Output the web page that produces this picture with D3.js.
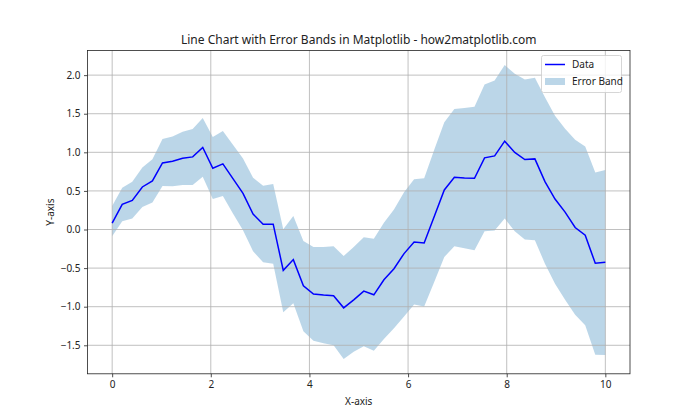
<!DOCTYPE html>
<html>
<head>
<meta charset="utf-8">
<script src="https://cdn.jsdelivr.net/npm/d3@7"></script>
<style>
  body { margin: 0; background: #fff; }
  svg text { font-family: "Noto Sans", "DejaVu Sans", sans-serif; fill: #222; }
</style>
</head>
<body>
<svg id="chart"></svg>
<script>
const xValues = d3.range(50).map(i => i * 10 / 49);

const yValues = [
  0.082, 0.325, 0.377, 0.551, 0.629, 0.863, 0.885, 0.924, 0.941, 1.063,
  0.794, 0.850, 0.659, 0.469, 0.200, 0.069, 0.069, -0.529, -0.390, -0.729,
  -0.837, -0.850, -0.859, -1.015, -0.911, -0.798, -0.846, -0.651, -0.508, -0.312,
  -0.161, -0.174, 0.169, 0.512, 0.677, 0.668, 0.664, 0.928, 0.954, 1.145,
  0.998, 0.907, 0.915, 0.620, 0.395, 0.226, 0.026, -0.074, -0.438, -0.425
];

const upperValues = [
  0.304, 0.542, 0.620, 0.803, 0.911, 1.171, 1.206, 1.267, 1.302, 1.445,
  1.197, 1.275, 1.098, 0.920, 0.672, 0.568, 0.590, 0.004, 0.174, -0.148,
  -0.226, -0.226, -0.217, -0.343, -0.226, -0.100, -0.121, 0.087, 0.260, 0.482,
  0.651, 0.664, 1.033, 1.388, 1.562, 1.575, 1.592, 1.879, 1.931, 2.130,
  2.017, 1.944, 1.965, 1.714, 1.475, 1.306, 1.163, 1.076, 0.738, 0.772
];

const lowerValues = [
  -0.087, 0.108, 0.143, 0.291, 0.351, 0.564, 0.560, 0.577, 0.577, 0.685,
  0.395, 0.434, 0.208, -0.009, -0.282, -0.425, -0.443, -1.072, -0.954, -1.319,
  -1.440, -1.475, -1.501, -1.679, -1.584, -1.514, -1.570, -1.419, -1.280, -1.128,
  -0.972, -0.998, -0.681, -0.356, -0.217, -0.243, -0.269, -0.022, -0.013, 0.143,
  -0.022, -0.130, -0.139, -0.443, -0.703, -0.911, -1.106, -1.241, -1.623, -1.627
];

const xTicks = [0, 2, 4, 6, 8, 10];
const yTicks = [-1.5, -1.0, -0.5, 0.0, 0.5, 1.0, 1.5, 2.0];

const width = 700;
const height = 420;
const margin = { left: 87.5, right: 70, top: 50.4, bottom: 46.2 };

const svg = d3.select("#chart")
    .attr("width", width)
    .attr("height", height);

const data = xValues.map((x, i) => ({ x: x, y: yValues[i], lo: lowerValues[i], hi: upperValues[i] }));

const yMin = d3.min(lowerValues), yMax = d3.max(upperValues);
const yPad = (yMax - yMin) * 0.05;

const xScale = d3.scaleLinear()
    .domain([-0.5, 10.5])
    .range([margin.left, width - margin.right]);

const yScale = d3.scaleLinear()
    .domain([yMin - yPad, yMax + yPad])
    .range([height - margin.bottom, margin.top]);

// error band
svg.append("path")
    .datum(data)
    .attr("d", d3.area().x(d => xScale(d.x)).y0(d => yScale(d.lo)).y1(d => yScale(d.hi)))
    .attr("fill", "#1f77b4")
    .attr("fill-opacity", 0.3);

// grid
svg.append("g")
    .selectAll("line.gx")
    .data(xTicks)
    .join("line")
    .attr("x1", d => xScale(d)).attr("x2", d => xScale(d))
    .attr("y1", margin.top).attr("y2", height - margin.bottom)
    .attr("stroke", "#b0b0b0").attr("stroke-width", 0.8);

svg.append("g")
    .selectAll("line.gy")
    .data(yTicks)
    .join("line")
    .attr("y1", d => yScale(d)).attr("y2", d => yScale(d))
    .attr("x1", margin.left).attr("x2", width - margin.right)
    .attr("stroke", "#b0b0b0").attr("stroke-width", 0.8);

// data line
svg.append("path")
    .datum(data)
    .attr("d", d3.line().x(d => xScale(d.x)).y(d => yScale(d.y)))
    .attr("fill", "none")
    .attr("stroke", "#0000ff")
    .attr("stroke-width", 1.5);

// axes
const xAxis = d3.axisBottom(xScale).tickValues(xTicks).tickFormat(d3.format("d")).tickSizeOuter(0).tickSize(3.5).tickPadding(3.5);
const yAxis = d3.axisLeft(yScale).tickValues(yTicks).tickFormat(d3.format(".1f")).tickSizeOuter(0).tickSize(3.5).tickPadding(3.5);

const gx = svg.append("g")
    .attr("transform", `translate(0, ${height - margin.bottom})`)
    .call(xAxis);
const gy = svg.append("g")
    .attr("transform", `translate(${margin.left}, 0)`)
    .call(yAxis);

[gx, gy].forEach(g => {
    g.select(".domain").remove();
    g.selectAll(".tick line").attr("stroke", "#222").attr("stroke-width", 0.8);
    g.selectAll(".tick text").attr("font-size", 10).attr("fill", "#222");
});

// frame
svg.append("rect")
    .attr("x", margin.left).attr("y", margin.top)
    .attr("width", width - margin.left - margin.right)
    .attr("height", height - margin.top - margin.bottom)
    .attr("fill", "none").attr("stroke", "#222").attr("stroke-width", 0.8);

// labels
svg.append("text")
    .attr("x", (margin.left + width - margin.right) / 2)
    .attr("y", 44)
    .attr("text-anchor", "middle")
    .attr("font-size", 12)
    .text("Line Chart with Error Bands in Matplotlib - how2matplotlib.com");

svg.append("text")
    .attr("x", (margin.left + width - margin.right) / 2)
    .attr("y", 405)
    .attr("text-anchor", "middle")
    .attr("font-size", 10)
    .text("X-axis");

svg.append("text")
    .attr("transform", `translate(54, ${(margin.top + height - margin.bottom) / 2}) rotate(-90)`)
    .attr("text-anchor", "middle")
    .attr("font-size", 10)
    .text("Y-axis");

// legend
const legend = svg.append("g");
legend.append("rect")
    .attr("x", 541.5).attr("y", 55.5).attr("width", 80).attr("height", 37).attr("rx", 2)
    .attr("fill", "#fff").attr("fill-opacity", 0.8)
    .attr("stroke", "#ccc").attr("stroke-width", 0.8);
legend.append("line")
    .attr("x1", 545).attr("x2", 565).attr("y1", 64.5).attr("y2", 64.5)
    .attr("stroke", "#0000ff").attr("stroke-width", 1.5);
legend.append("rect")
    .attr("x", 545).attr("y", 78).attr("width", 20).attr("height", 7)
    .attr("fill", "#1f77b4").attr("fill-opacity", 0.3);
legend.append("text").attr("x", 572).attr("y", 68).attr("font-size", 10).text("Data");
legend.append("text").attr("x", 572).attr("y", 85).attr("font-size", 10).text("Error Band");
</script>
</body>
</html>
